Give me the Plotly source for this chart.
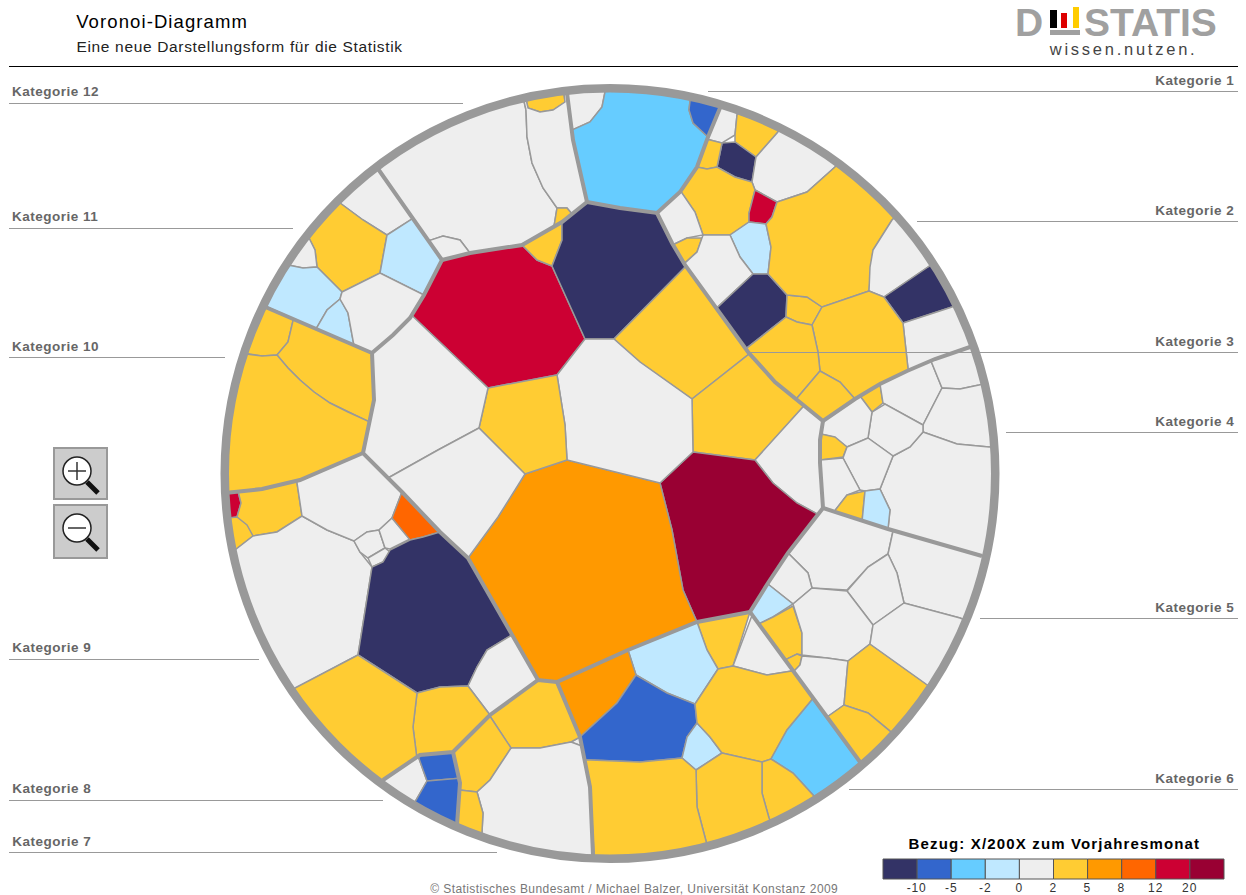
import json
import math
import numpy as np
import plotly.graph_objects as go

band_limits = [-10, -5, -2, 0, 2, 5, 8, 12, 20]
band_colors = ["#333366", "#3366CC", "#66CCFF", "#BFE8FF", "#EEEEEE",
               "#FFCC33", "#FF9900", "#FF6600", "#CC0033", "#990033"]

title_main = "Voronoi-Diagramm"
title_sub = "Eine neue Darstellungsform für die Statistik"
legend_title = "Bezug: X/200X zum Vorjahresmonat"
credit = "© Statistisches Bundesamt / Michael Balzer, Universität Konstanz 2009"

label_names = ["Kategorie 1", "Kategorie 2", "Kategorie 3", "Kategorie 4", "Kategorie 5", "Kategorie 6",
               "Kategorie 7", "Kategorie 8", "Kategorie 9", "Kategorie 10", "Kategorie 11", "Kategorie 12"]
label_right = [True, True, True, True, True, True, False, False, False, False, False, False]
label_text_y = [81, 211, 342, 422, 608, 779, 842, 789, 648, 347, 217, 92]
label_line_y = [91, 221, 352, 432, 618, 789, 852, 800, 659, 357, 228, 103]
label_line_x = [708, 917, 750, 1006, 980, 849, 497, 383, 259, 225, 293, 463]

# cells: one value and one outline per cell
kern_values = [15, 3.5, -12, 3.5, 3.5, 1, 25, 6.5, 1, 3.5, 1, 1]
kern_cells = [
    [(442,260),(470,253),(522,245),(537,260),(552,266),(585,339),(557,375),(488,388),(413,316)],
    [(522,245),(562,222),(562,240),(552,266),(537,260)],
    [(562,222),(587,202),(620,208),(657,213),(685,267),(614,339),(585,339),(552,266),(562,240)],
    [(685,267),(717,310),(748,355),(692,399),(640,362),(614,339)],
    [(692,399),(748,355),(775,382),(803,407),(755,460),(693,452)],
    [(803,407),(823,420),(820,463),(823,508),(815,512),(797,503),(773,483),(755,460)],
    [(693,452),(755,460),(773,483),(797,503),(815,512),(788,553),(768,583),(750,612),(697,622),(683,590),(672,530),(660,483)],
    [(567,460),(660,483),(672,530),(683,590),(697,622),(628,650),(557,682),(538,680),(512,635),(468,558),(498,517),(525,474)],
    [(614,339),(640,362),(692,399),(693,452),(660,483),(567,460),(565,425),(557,375),(585,339)],
    [(488,388),(557,375),(565,425),(567,460),(525,474),(479,428)],
    [(413,316),(488,388),(479,428),(438,450),(391,475),(363,453),(374,400),(372,353)],
    [(391,475),(438,450),(479,428),(525,474),(498,517),(468,558),(440,532),(402,492)],
]

kat1_values = [1, -3, -7]
kat1_cells = [
    [(567,93),(605,92),(602,107),(590,122),(573,130)],
    [(605,92),(690,101),(689,110),(693,123),(708,137),(680,192),(657,213),(620,208),(587,202),(573,130),(590,122),(602,107)],
    [(690,101),(720,108),(708,137),(693,123),(689,110)],
]

kat2_values = [1, 3.5, -12, 3.5, 1, 3.5, 15, -1, 1, 3.5, 1, -12, 3.5, 3.5, 1, -12, 1, 3.5, 3.5, 3.5]
kat2_cells = [
    [(720,108),(737,115),(735,135),(722,143),(712,141),(708,137)],
    [(737,115),(778,132),(756,157),(735,142),(735,135)],
    [(722,143),(735,142),(756,157),(752,182),(735,177),(717,167),(720,153)],
    [(712,141),(722,143),(720,153),(717,167),(707,169),(697,167),(705,153)],
    [(778,132),(835,167),(807,192),(777,202),(755,190),(752,182),(756,157)],
    [(697,167),(707,169),(717,167),(735,177),(752,182),(755,190),(749,213),(749,222),(730,235),(703,235),(695,212),(682,192)],
    [(755,190),(777,202),(772,217),(766,224),(749,222),(749,213)],
    [(749,222),(766,224),(771,247),(768,274),(753,274),(740,257),(730,235)],
    [(682,192),(695,212),(703,235),(687,238),(676,243),(657,213)],
    [(676,243),(687,238),(702,238),(697,252),(687,262)],
    [(703,235),(730,235),(740,257),(753,274),(717,308),(687,262),(697,252)],
    [(753,274),(768,274),(787,295),(786,317),(747,348),(717,308)],
    [(787,295),(807,297),(822,307),(812,325),(797,322),(786,317)],
    [(835,167),(892,220),(873,250),(869,291),(822,307),(807,297),(787,295),(768,274),(771,247),(766,224),(772,217),(777,202),(807,192)],
    [(892,220),(928,267),(884,297),(869,291),(870,267),(873,250)],
    [(928,267),(952,307),(903,323),(884,297)],
    [(952,307),(968,347),(908,370),(903,323)],
    [(869,291),(884,297),(903,323),(908,370),(855,399),(840,382),(820,371),(818,352),(812,325),(822,307)],
    [(786,317),(797,322),(812,325),(818,352),(820,371),(797,398),(747,348)],
    [(820,371),(840,382),(855,399),(823,421),(797,398)],
]

kat4_values = [3.5, 1, 1, 1, 1, 1, 1, 3.5, 1, 1, 3.5, -1]
kat4_cells = [
    [(880,384),(883,403),(872,412),(860,396)],
    [(931,361),(942,388),(923,425),(885,404),(883,403),(880,384)],
    [(931,361),(968,347),(979,385),(960,389),(942,388)],
    [(942,388),(960,389),(979,385),(989,447),(957,444),(923,432),(923,425)],
    [(923,432),(957,444),(989,447),(981,555),(888,529),(890,510),(880,489),(893,456),(910,447)],
    [(872,412),(885,404),(923,425),(923,432),(910,447),(893,456),(868,438)],
    [(823,421),(855,399),(860,396),(872,412),(868,438),(847,447),(833,437),(821,434)],
    [(821,434),(835,437),(847,447),(843,457),(821,460)],
    [(847,447),(868,438),(893,456),(880,489),(865,491),(860,490),(843,458)],
    [(821,460),(843,458),(860,490),(847,495),(834,512),(823,508)],
    [(834,512),(847,495),(865,491),(862,521)],
    [(865,491),(880,489),(890,510),(888,529),(862,521)],
]

kat5_values = [1, 1, 1, 1, -1, 3.5, 3.5, 1, 1, 3.5, 3.5, 1]
kat5_cells = [
    [(823,508),(893,531),(888,554),(868,567),(847,590),(812,588),(808,573),(788,553)],
    [(893,531),(981,556),(960,618),(904,603),(897,573),(888,554)],
    [(888,554),(897,573),(904,603),(873,625),(847,591),(868,567)],
    [(788,553),(808,573),(812,588),(793,604),(768,584)],
    [(768,584),(793,604),(773,617),(760,623),(750,612)],
    [(793,606),(802,633),(802,655),(797,654),(785,660),(760,623),(773,617)],
    [(785,660),(797,654),(802,656),(800,665),(793,672)],
    [(793,604),(812,588),(847,591),(873,625),(870,644),(848,661),(827,658),(802,655),(802,633)],
    [(802,656),(827,658),(848,661),(844,705),(827,717),(793,672),(800,665)],
    [(848,661),(870,644),(926,684),(889,730),(868,713),(844,705)],
    [(827,717),(844,705),(868,713),(889,730),(859,761)],
    [(873,625),(904,603),(960,618),(926,684),(870,644)],
]

kat6_values = [3.5, 1, -1, 6.5, -7, -1, 3.5, -3, 3.5, 3.5, 3.5, 1]
kat6_cells = [
    [(697,622),(750,612),(733,666),(718,669),(707,650)],
    [(752,615),(785,665),(790,673),(767,675),(733,666)],
    [(628,650),(697,622),(707,650),(718,669),(695,704),(667,693),(636,675)],
    [(557,682),(628,650),(636,675),(617,703),(580,737),(577,723)],
    [(636,675),(667,693),(695,704),(697,723),(687,737),(682,758),(640,762),(588,759),(580,737),(617,703)],
    [(697,723),(710,737),(722,753),(696,770),(682,758),(687,737)],
    [(733,666),(767,675),(790,673),(808,702),(787,730),(771,759),(762,762),(722,753),(710,737),(697,723),(695,704),(718,669)],
    [(808,702),(859,761),(813,795),(793,773),(771,759),(787,730)],
    [(762,762),(771,759),(793,773),(813,795),(769,818),(762,793)],
    [(722,753),(762,762),(762,793),(769,818),(706,841),(697,807),(696,770)],
    [(588,759),(640,762),(682,758),(696,770),(697,807),(706,841),(594,853),(593,807)],
    [(571,742),(580,737),(582,746)],
]

kat7_values = [3.5, 3.5, 1, 3.5]
kat7_cells = [
    [(490,716),(538,680),(557,682),(580,737),(571,742),(540,748),(511,748)],
    [(490,716),(511,748),(490,780),(477,792),(460,790),(453,752)],
    [(511,748),(540,748),(571,742),(582,746),(590,787),(594,853),(482,832),(483,813),(477,792),(490,780)],
    [(460,790),(477,792),(483,813),(482,832),(457,823)],
]

kat8_values = [1, -7, -7]
kat8_cells = [
    [(383,780),(418,756),(427,781),(415,802)],
    [(418,756),(453,752),(460,778),(427,781)],
    [(427,781),(460,778),(457,823),(415,802)],
]

kat9_values = [15, 3.5, 3.5, 1, 1, 1, 1, 1, 10, -12, 1, 3.5, 3.5]
kat9_cells = [
    [(227,493),(238,491),(241,503),(237,517),(228,518)],
    [(238,491),(297,482),(302,516),(277,532),(253,536),(237,517),(241,503)],
    [(228,518),(237,517),(247,525),(253,536),(235,550)],
    [(235,550),(253,536),(277,532),(302,516),(327,530),(354,541),(360,552),(372,567),(358,655),(295,688)],
    [(297,482),(363,453),(402,492),(392,518),(379,530),(367,532),(354,541),(327,530),(302,516)],
    [(354,541),(367,532),(379,530),(385,548),(368,558),(360,552)],
    [(379,530),(392,518),(410,539),(390,549),(385,548)],
    [(368,558),(385,548),(390,552),(383,562),(372,567)],
    [(402,492),(440,532),(423,537),(410,540),(392,518)],
    [(372,567),(383,562),(390,550),(410,540),(423,537),(440,532),(468,558),(512,635),(487,650),(477,667),(468,686),(440,687),(417,693),(358,655)],
    [(512,635),(538,680),(488,713),(468,686),(477,667),(487,650)],
    [(417,693),(440,687),(468,686),(488,713),(453,752),(433,752),(416,756),(413,727)],
    [(358,655),(417,693),(413,727),(416,756),(383,780),(295,688)],
]

kat10_values = [3.5, 3.5, 3.5]
kat10_cells = [
    [(265,307),(293,320),(288,342),(277,355),(262,356),(246,354)],
    [(293,320),(372,354),(374,400),(370,422),(348,412),(330,403),(314,392),(300,380),(288,368),(277,355),(288,342)],
    [(246,354),(262,356),(277,355),(288,368),(300,380),(314,392),(330,403),(348,412),(370,422),(363,453),(300,480),(227,492)],
]

kat11_values = [1, 3.5, -1, 1, -1, -1, 1]
kat11_cells = [
    [(340,203),(378,168),(412,219),(387,235),(363,220)],
    [(340,203),(363,220),(387,235),(380,273),(342,292),(317,267),(315,250),(309,238)],
    [(387,235),(412,219),(442,260),(424,295),(380,273)],
    [(309,238),(315,250),(317,267),(303,268),(288,265)],
    [(288,265),(303,268),(317,267),(342,292),(340,299),(327,310),(316,329),(265,306)],
    [(340,299),(348,313),(354,345),(316,329),(327,310)],
    [(342,292),(380,273),(424,295),(410,318),(393,335),(372,353),(354,345),(348,313),(340,299)],
]

kat12_values = [3.5, 1, 1, 3.5, 1]
kat12_cells = [
    [(523,102),(565,94),(565,102),(553,110),(540,112),(528,108)],
    [(378,168),(523,102),(526,110),(527,137),(532,163),(543,188),(557,208),(553,225),(520,243),(470,253),(460,240),(443,236),(431,239),(412,219)],
    [(526,110),(528,108),(540,112),(553,110),(565,102),(567,93),(573,130),(587,202),(572,214),(567,208),(557,208),(543,188),(532,163),(527,137)],
    [(557,208),(567,208),(572,214),(553,225)],
    [(431,239),(443,236),(460,240),(470,253),(442,260)],
]

thick_lines = [
    [(567,93),(573,140),(587,202),(620,208),(657,213),(680,192),(697,167),(708,137),(720,108)],
    [(657,213),(672,243),(685,265),(717,310),(748,352),(775,382),(797,400),(823,421),(855,399),(880,384),(907,371),(935,359),(970,347)],
    [(823,421),(820,440),(820,463),(823,508),(888,529),(982,556)],
    [(823,508),(788,553),(768,583),(750,612),(827,717),(860,762)],
    [(750,612),(697,622),(628,650),(557,682),(580,737),(590,787),(593,855)],
    [(557,682),(538,680),(490,715),(453,752),(420,755),(383,780)],
    [(453,752),(460,783),(457,825)],
    [(538,680),(512,635),(468,558),(440,532),(402,492),(363,453),(300,480),(262,489),(225,493)],
    [(363,453),(374,400),(372,353),(263,306)],
    [(372,353),(393,335),(410,318),(424,295),(442,260),(412,218),(376,166)],
    [(442,260),(470,253),(522,245),(562,222),(587,202)],
]

legend_ticks = ["-10", "-5", "-2", "0", "2", "5", "8", "12", "20"]

RING_X, RING_Y, RING_R, RING_W = 610, 473.5, 385.25, 8.5
RING_COLOR = "#999999"
SNAP = 6.5


def on_ring(p):
    return math.hypot(p[0] - RING_X, p[1] - RING_Y) > 372


def project(p, line):
    """Distance along the line, nearest point on it and distance to it."""
    best = None
    run = 0.0
    for a, b in zip(line, line[1:]):
        dx, dy = b[0] - a[0], b[1] - a[1]
        seg = math.hypot(dx, dy)
        t = max(0.0, min(1.0, ((p[0] - a[0]) * dx + (p[1] - a[1]) * dy) / (seg * seg)))
        c = (a[0] + t * dx, a[1] + t * dy)
        d = math.hypot(p[0] - c[0], p[1] - c[1])
        if best is None or d < best[2]:
            best = (run + t * seg, c, d)
        run += seg
    return best


def walk(line, s0, s1):
    """Corners of the line that lie strictly between two distances along it."""
    run = 0.0
    stops = []
    for a, b in zip(line, line[1:]):
        stops.append((run, a))
        run += math.hypot(b[0] - a[0], b[1] - a[1])
    stops.append((run, line[-1]))
    inner = [c for s, c in stops if min(s0, s1) < s < max(s0, s1)]
    return inner if s0 < s1 else inner[::-1]


def outline(cell):
    """Closes a cell: rim edges follow the ring, edges along a category border follow that border."""
    marks = []
    for p in cell:
        found = {}
        for k, line in enumerate(thick_lines):
            s, c, d = project(p, line)
            if d < SNAP:
                found[k] = (s, c, d)
        marks.append(found)
    xs, ys = [], []
    for i, p in enumerate(cell):
        j = (i + 1) % len(cell)
        q = cell[j]
        here = p
        if marks[i] and not on_ring(p):
            here = min(marks[i].values(), key=lambda m: m[2])[1]
        xs.append(here[0])
        ys.append(here[1])
        if on_ring(p) and on_ring(q):
            a = math.atan2(p[1] - RING_Y, p[0] - RING_X)
            b = math.atan2(q[1] - RING_Y, q[0] - RING_X)
            d = (b - a + math.pi) % (2 * math.pi) - math.pi
            for t in np.linspace(0, 1, max(int(abs(d) * 30), 2) + 1):
                xs.append(RING_X + RING_R * math.cos(a + d * t))
                ys.append(RING_Y + RING_R * math.sin(a + d * t))
            continue
        mid = ((p[0] + q[0]) / 2, (p[1] + q[1]) / 2)
        for k in set(marks[i]) & set(marks[j]):
            s0, s1 = marks[i][k][0], marks[j][k][0]
            if project(mid, thick_lines[k])[2] < SNAP and abs(s1 - s0) < 1.5 * math.hypot(q[0] - p[0], q[1] - p[1]) + 5:
                for c in walk(thick_lines[k], s0, s1):
                    xs.append(c[0])
                    ys.append(c[1])
                break
    xs.append(xs[0])
    ys.append(ys[0])
    return xs, ys


groups = [(kern_values, kern_cells), (kat1_values, kat1_cells), (kat2_values, kat2_cells),
          (kat4_values, kat4_cells), (kat5_values, kat5_cells), (kat6_values, kat6_cells),
          (kat7_values, kat7_cells), (kat8_values, kat8_cells), (kat9_values, kat9_cells),
          (kat10_values, kat10_cells), (kat11_values, kat11_cells), (kat12_values, kat12_cells)]

fig = go.Figure()
for values, cells in groups:
    for value, cell in zip(values, cells):
        xs, ys = outline(cell)
        fig.add_trace(go.Scatter(x=xs, y=ys, mode="lines", fill="toself",
                                 fillcolor=band_colors[int(np.digitize(value, band_limits))],
                                 line=dict(color="#999999", width=1.5), hoverinfo="skip"))

for line in thick_lines:
    fig.add_trace(go.Scatter(x=[p[0] for p in line], y=[p[1] for p in line], mode="lines",
                             line=dict(color=RING_COLOR, width=4), hoverinfo="skip"))

shapes = [dict(type="circle", x0=RING_X - RING_R, x1=RING_X + RING_R, y0=RING_Y - RING_R, y1=RING_Y + RING_R,
               line=dict(color=RING_COLOR, width=RING_W), fillcolor="rgba(0,0,0,0)")]
annotations = []
spaced = {}


def note(text, x, y, size, color, anchor="left", bold=False, family="Liberation Sans", spacing=0.0):
    """Places a text; spacing widens it about its centre, so the edge it hangs from is corrected."""
    grow = spacing * len(text)
    if spacing:
        spaced[text] = spacing
    if anchor == "left":
        x = x - 2 + grow / 2
    elif anchor == "right":
        x = x + 1 - grow / 2
    annotations.append(dict(text=f"<b>{text}</b>" if bold else text, x=x, y=y, xref="x", yref="y",
                            xanchor=anchor, yanchor="middle", showarrow=False,
                            font=dict(size=size, color=color, family=family)))


note(title_main, 76, 21, 18.5, "#000000", spacing=1.1)
note(title_sub, 76, 46, 15.5, "#222222", spacing=0.66)
fig.add_trace(go.Scatter(x=[9, 1238], y=[66.5, 66.5], mode="lines", line=dict(color="#000000", width=1.2), hoverinfo="skip"))

for name, right, ty, ly, lx in zip(label_names, label_right, label_text_y, label_line_y, label_line_x):
    x0, x1 = (lx, 1238) if right else (9, lx)
    fig.add_trace(go.Scatter(x=[x0, x1], y=[ly + 0.5, ly + 0.5], mode="lines", line=dict(color="#999999", width=1), hoverinfo="skip"))
    note(name, 1236 if right else 12, ty - 0.5, 13.5, "#666666", "right" if right else "left", True, spacing=0.5)

# logo
note("D", 1015, 22, 39, "#A0A0A0", bold=True)
note("STATIS", 1084, 22, 39, "#A0A0A0", bold=True)
note("wissen.nutzen.", 1049, 49, 16.5, "#444444", spacing=2.75)
logo_bars = [("#000000", 1050, 1057, 10), ("#DD0000", 1061, 1067, 13), ("#FFCC00", 1073, 1079, 7)]
for color, a, b, top in logo_bars:
    shapes.append(dict(type="rect", x0=a, x1=b, y0=top, y1=28, fillcolor=color, line=dict(width=0)))
shapes.append(dict(type="rect", x0=1050, x1=1080, y0=30, y1=35, fillcolor="#A0A0A0", line=dict(width=0)))

# zoom buttons
for top, bottom in [(448, 499), (505, 558)]:
    cy = top + 23
    shapes.append(dict(type="rect", x0=54, x1=107, y0=top, y1=bottom, fillcolor="#CCCCCC", line=dict(color="#999999", width=2)))
    shapes.append(dict(type="line", x0=87, x1=98, y0=cy + 11, y1=cy + 22, line=dict(color="#111111", width=5)))
    shapes.append(dict(type="circle", x0=63, x1=91, y0=cy - 14, y1=cy + 14, fillcolor="#FFFFFF", line=dict(color="#222222", width=1.5)))
    shapes.append(dict(type="line", x0=68, x1=86, y0=cy, y1=cy, line=dict(color="#333333", width=1.5)))
shapes.append(dict(type="line", x0=77, x1=77, y0=462, y1=480, line=dict(color="#333333", width=1.5)))

# legend
LEG_X, LEG_W = 883, 34.1
for i, color in enumerate(band_colors):
    shapes.append(dict(type="rect", x0=LEG_X + i * LEG_W, x1=LEG_X + (i + 1) * LEG_W, y0=859, y1=879,
                       fillcolor=color, line=dict(color="#555555", width=1)))
for i, tick in enumerate(legend_ticks):
    note(tick, LEG_X + (i + 1) * LEG_W, 888, 12, "#333333", "center", spacing=0.9)
note(legend_title, 1054.5, 843, 15, "#000000", "center", True, spacing=1.15)
note(credit, 430, 889, 12, "#777777", spacing=0.43)

fig.update_layout(width=1246, height=895, margin=dict(l=0, r=0, t=0, b=0), showlegend=False,
                  paper_bgcolor="#FFFFFF", plot_bgcolor="#FFFFFF", shapes=shapes, annotations=annotations,
                  xaxis=dict(range=[0, 1246], visible=False, fixedrange=True),
                  yaxis=dict(range=[895, 0], visible=False, fixedrange=True))

page_script = """
document.body.style.margin = '0';
var spaced = %s;
var title = %s;
document.querySelectorAll('.annotation-text').forEach(function (t) {
  var s = spaced[t.textContent];
  if (s) { t.style.letterSpacing = s + 'px'; }
  if (t.textContent === title) { t.style.webkitTextStroke = '0.35px #000'; }
});
""" % (json.dumps(spaced), json.dumps(title_main))
fig.write_html("out.html", post_script=page_script, config=dict(displayModeBar=False))
